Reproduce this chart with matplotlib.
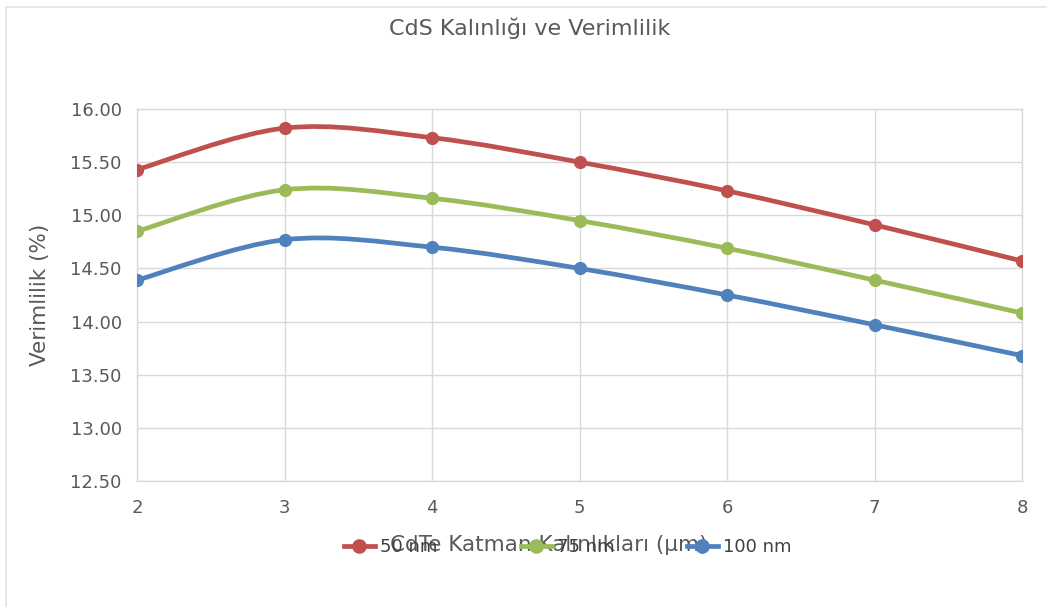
import matplotlib
matplotlib.use("Agg")
import matplotlib.pyplot as plt
import numpy as np
from matplotlib.path import Path
from matplotlib.patches import PathPatch, Rectangle
from matplotlib.lines import Line2D

title = "CdS Kalınlığı ve Verimlilik"
xlabel = "CdTe Katman Kalınlıkları (µm)"
ylabel = "Verimlilik (%)"
thickness = [2, 3, 4, 5, 6, 7, 8]
series_names = ["50 nm", "75 nm", "100 nm"]
eff_50 = [15.43, 15.82, 15.73, 15.50, 15.23, 14.91, 14.57]
eff_75 = [14.85, 15.24, 15.16, 14.95, 14.69, 14.39, 14.08]
eff_100 = [14.39, 14.77, 14.70, 14.50, 14.25, 13.97, 13.68]
colors = ["#C0504D", "#9BBB59", "#4F81BD"]
yticks = [12.5, 13.0, 13.5, 14.0, 14.5, 15.0, 15.5, 16.0]

plt.rcParams['font.family'] = ['DejaVu Sans']
W, H = 1047, 607
fig = plt.figure(figsize=(W / 100, H / 100), dpi=100)
fig.patches.append(Rectangle((6 / W, -0.01), 1.2, 1 - 7 / H + 0.01, transform=fig.transFigure,
                             fill=False, edgecolor="#e3e3e3", linewidth=1.2))

ax = fig.add_axes([137 / W, 1 - 481 / H, (1022 - 137) / W, (481 - 109) / H])


def smooth_path(xs, ys):
    pts = np.column_stack([xs, ys]).astype(float)
    n = len(pts)
    verts = [pts[0]]
    codes = [Path.MOVETO]
    for i in range(n - 1):
        p0 = pts[i - 1] if i > 0 else pts[i]
        p1 = pts[i]
        p2 = pts[i + 1]
        p3 = pts[i + 2] if i + 2 < n else pts[i + 1]
        c1 = p1 + (p2 - p0) / 6.0
        c2 = p2 - (p3 - p1) / 6.0
        verts += [c1, c2, p2]
        codes += [Path.CURVE4] * 3
    return Path(verts, codes)


handles = []
for name, vals, c in zip(series_names, [eff_50, eff_75, eff_100], colors):
    patch = PathPatch(smooth_path(thickness, vals), fill=False, edgecolor=c,
                      linewidth=3.4, capstyle='round', joinstyle='round', zorder=3)
    ax.add_patch(patch)
    ax.plot(thickness, vals, ls='none', marker='o', markersize=8.5, color=c, zorder=4)
    handles.append(Line2D([0], [0], color=c, lw=3.4, marker='o', markersize=9.5))

ax.set_xlim(2, 8)
ax.set_ylim(12.5, 16.0)
ax.set_xticks(thickness)
ax.set_xticklabels([str(t) for t in thickness])
ax.set_yticks(yticks)
ax.set_yticklabels([f"{v:.2f}" for v in yticks])
ax.grid(True, color="#d9d9d9", linewidth=1.0)
ax.set_axisbelow(True)
for s in ax.spines.values():
    s.set_color("#d9d9d9")
    s.set_linewidth(1.0)
ax.tick_params(length=0, labelsize=13, labelcolor="#595959")
ax.tick_params(axis='x', pad=13)
ax.tick_params(axis='y', pad=11)

fig.text(530 / W, 1 - 28 / H, title, ha='center', va='center', fontsize=16, color="#595959")
fig.text(40 / W, 1 - 295 / H, ylabel, ha='center', va='center', rotation=90,
         fontsize=15.5, color="#595959")
fig.text(549 / W, 1 - 545 / H, xlabel, ha='center', va='center', fontsize=15.5, color="#595959")

leg_pos = [344, 521, 687]
for h, name, px in zip(handles, series_names, leg_pos):
    fig.legend([h], [name], loc='center left', bbox_to_anchor=(px / W, 1 - 547 / H),
               frameon=False, fontsize=13, handlelength=1.7, handletextpad=0.3,
               borderpad=0, borderaxespad=0, labelcolor="#404040")

fig.savefig("out.png", dpi=100)
